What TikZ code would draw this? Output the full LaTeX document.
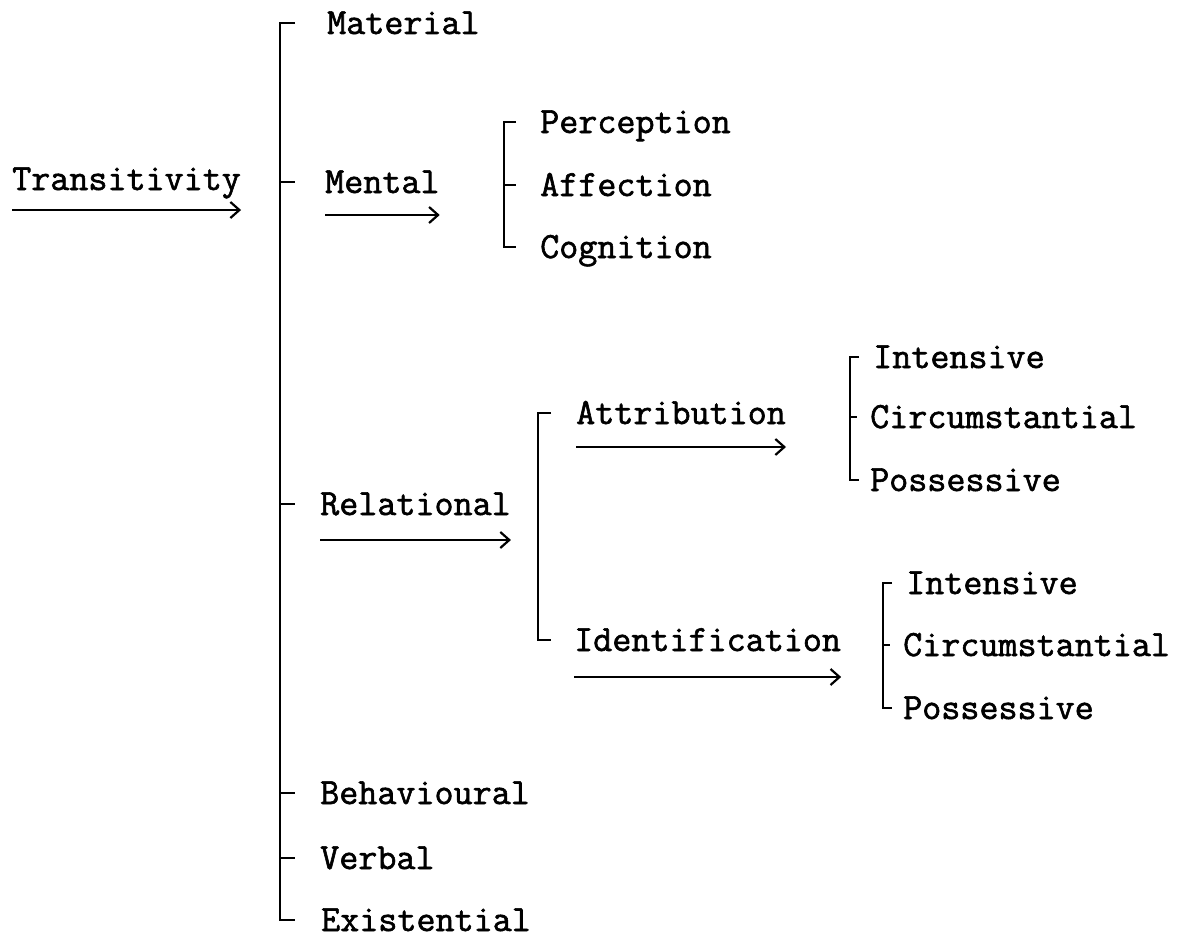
\documentclass[tikz,border=0pt]{standalone}
\usepackage{fontspec}
\newfontfamily\typer{Latin Modern Mono}[FakeBold=1.6]
\usetikzlibrary{calc,arrows.meta}
\newcommand{\fork}[4]{\draw[fork] ($(#2.west -| #1)+(#4,0)$) -- (#2.west -| #1) -- (#3.west -| #1) -- ($(#3.west -| #1)+(#4,0)$)}
\newcommand{\twig}[3]{\draw[fork] (#2.west -| #1) -- ++(#3,0)}
\newcommand{\under}[2]{\draw[arr] ($(#1.west)+(0,#2)$) -- ($(#1.east)+(0,#2)$)}

\begin{document}
\begin{tikzpicture}[x=1pt, y=-1pt,
    lbl/.style={anchor=west, inner sep=0pt, text height=22pt, text depth=0pt,
      font=\typer\fontsize{37}{42}\selectfont},
    fork/.style={line width=2.4pt},
    arr/.style={line width=2.2pt, -{Straight Barb[length=9pt,width=16pt]}}]
            \useasboundingbox (0,0) rectangle (1197,942);

            \node[lbl] (trans) at (12,179) {Transitivity};

            \coordinate (mx) at (280,0);
            \node[lbl] (mat) at (327,23) {Material};
            \node[lbl] (men) at (325,182) {Mental};
            \node[lbl] (rel) at (320,504) {Relational};
            \node[lbl] (beh) at (320,793) {Behavioural};
            \node[lbl] (verb) at (320,858) {Verbal};
            \node[lbl] (exi) at (321,920) {Existential};

            \coordinate (px) at (504,0);
            \node[lbl] (per) at (540,122) {Perception};
            \node[lbl] (aff) at (540,185) {Affection};
            \node[lbl] (cog) at (540,247) {Cognition};

            \coordinate (rx) at (538,0);
            \node[lbl] (att) at (576,413) {Attribution};
            \node[lbl] (ide) at (574,640) {Identification};

            \coordinate (ax) at (850,0);
            \node[lbl] (ai) at (873,357) {Intensive};
            \node[lbl] (ac) at (870,417) {Circumstantial};
            \node[lbl] (ap) at (870,480) {Possessive};

            \coordinate (ix) at (883,0);
            \node[lbl] (ii) at (906,583) {Intensive};
            \node[lbl] (ic) at (903,645) {Circumstantial};
            \node[lbl] (ip) at (903,708) {Possessive};

            % brackets
            \fork{mx}{mat}{exi}{15};
            \twig{mx}{men}{15};
            \twig{mx}{rel}{15};
            \twig{mx}{beh}{15};
            \twig{mx}{verb}{15};

            \fork{px}{per}{cog}{12};
            \twig{px}{aff}{12};

            \fork{rx}{att}{ide}{13};

            \fork{ax}{ai}{ap}{9};
            \twig{ax}{ac}{7};

            \fork{ix}{ii}{ip}{9};
            \twig{ix}{ic}{7};

            % arrows
            \under{trans}{31};
            \under{men}{33};
            \under{rel}{36};
            \under{att}{34};
            \under{ide}{37};
        \end{tikzpicture}
\end{document}
